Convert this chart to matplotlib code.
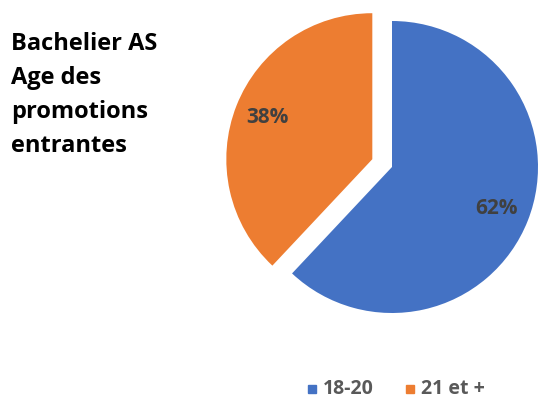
import matplotlib.pyplot as plt
from matplotlib.patches import Rectangle

labels = ['18-20', '21 et +']
values = [62, 38]
colors = ['#4472C4', '#ED7D31']
title_lines = ['Bachelier AS', 'Age des', 'promotions', 'entrantes']

plt.rcParams['font.family'] = ['Open Sans', 'DejaVu Sans']

fig = plt.figure(figsize=(5.38, 4.01), dpi=100)
ax = fig.add_axes([0, 0, 1, 1])

# pie in pixel units (y measured from bottom)
wedges, texts, autotexts = ax.pie(
    values, colors=colors, startangle=90, counterclock=False,
    center=(392, 234), radius=146, explode=[0, 0.145 * 146],
    autopct='%1.0f%%', pctdistance=0.77,
    textprops=dict(color='#404040', fontsize=15, fontweight='bold'))
ax.set_xlim(0, 538)
ax.set_ylim(0, 401)
ax.set_aspect('auto')
ax.axis('off')

# title block
y = 357
for line in title_lines:
    ax.text(11, y, line, fontsize=17, fontweight='bold', color='#000000',
            ha='left', va='center')
    y -= 34

# legend
leg_x = [312, 410]
for x, lab, c in zip(leg_x, labels, colors):
    ax.add_patch(Rectangle((x - 4, 8), 8, 8, color=c))
    ax.text(x + 11, 12, lab, fontsize=14, fontweight='bold', color='#595959',
            ha='left', va='center')

fig.savefig('out.png', dpi=100)
